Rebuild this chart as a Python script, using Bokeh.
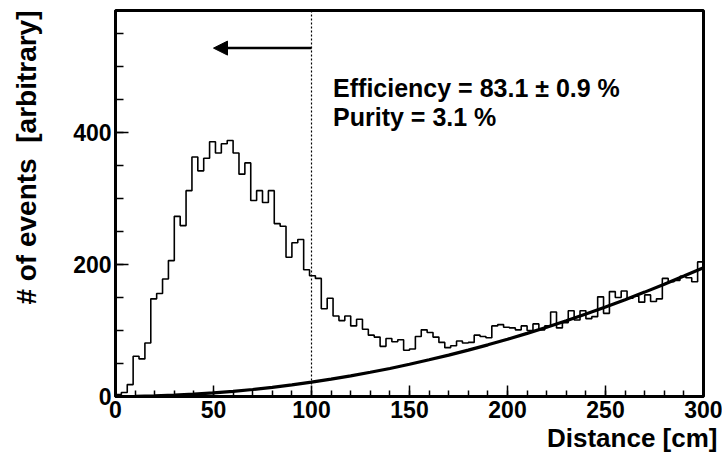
import numpy as np
from bokeh.plotting import figure
from bokeh.models import Range1d, SingleIntervalTicker, Span, Label, Arrow, NormalHead, Title
from bokeh.embed import file_html
from bokeh.resources import INLINE

# ---- data ----
bin_width = 3  # cm
counts = [3, 6, 18, 61, 57, 81, 148, 156, 178, 206,
          273, 259, 312, 363, 342, 361, 386, 369, 383, 388,
          369, 337, 354, 297, 312, 294, 312, 262, 258, 211,
          233, 238, 192, 183, 179, 133, 149, 122, 115, 122,
          107, 117, 102, 93, 90, 76, 88, 83, 86, 70,
          72, 91, 101, 97, 90, 82, 74, 77, 84, 81,
          82, 93, 91, 89, 107, 109, 105, 104, 101, 107,
          100, 110, 101, 107, 128, 104, 112, 130, 116, 130,
          118, 121, 151, 126, 159, 150, 160, 149, 152, 143,
          154, 144, 148, 179, 174, 176, 182, 180, 174, 204]
bin_edges = [bin_width * i for i in range(len(counts) + 1)]

fit_x = [0, 10, 20, 30, 40, 50, 60, 70, 80, 90, 100, 110, 120, 130, 140, 150,
         160, 170, 180, 190, 200, 210, 220, 230, 240, 250, 260, 270, 280, 290, 300]
fit_y = [0, 0.2, 0.9, 2.0, 3.5, 5.4, 7.8, 10.6, 13.9, 17.6, 21.7, 26.3, 31.2,
         36.7, 42.5, 48.8, 55.6, 62.7, 70.3, 78.3, 86.8, 95.7, 105.0, 114.8,
         125.0, 135.6, 146.7, 158.2, 170.1, 182.5, 195.3]

cut_value = 100
arrow_end = 50
arrow_level = 528
eff_text = "Efficiency = 83.1 \u00b1 0.9 %"
pur_text = "Purity = 3.1 %"
x_title = "Distance [cm]"
y_title = "# of events\u00a0\u00a0[arbitrary]"

FONT = "Liberation Sans"

p = figure(width=722, height=452, output_backend="svg", toolbar_location=None,
           x_range=Range1d(0, 300), y_range=Range1d(0, 585),
           min_border_left=115, min_border_right=19, min_border_top=10, min_border_bottom=54)
p.background_fill_color = "white"
p.border_fill_color = "white"
p.outline_line_color = "black"
p.outline_line_width = 3
p.grid.visible = False

p.xaxis.ticker = SingleIntervalTicker(interval=50, num_minor_ticks=5)
p.yaxis.ticker = SingleIntervalTicker(interval=200, num_minor_ticks=4)
for ax in (p.xaxis, p.yaxis):
    ax.axis_line_width = 3
    ax.major_tick_out = 0
    ax.minor_tick_out = 0
    ax.major_tick_line_width = 1.5
    ax.minor_tick_line_width = 1.5
    ax.major_label_text_font = FONT
    ax.major_label_text_font_style = "bold"
    ax.major_label_text_font_size = "23px"
    ax.major_label_text_color = "black"
p.xaxis.major_tick_in = 11
p.xaxis.minor_tick_in = 6
p.yaxis.major_tick_in = 13
p.yaxis.minor_tick_in = 8
p.xaxis.major_label_standoff = 4
p.yaxis.major_label_standoff = 4
# invisible spacer label that pushes the y title outward
p.yaxis.axis_label = "\u00a0"
p.yaxis.axis_label_text_font_size = "9px"
p.yaxis.axis_label_standoff = 16

# axis titles (right/top aligned, ROOT style)
p.add_layout(Title(text=x_title, align="right", offset=-14, standoff=0,
                   text_font=FONT, text_font_style="bold", text_font_size="26px",
                   text_color="black"), "below")
p.add_layout(Title(text=y_title, align="right", offset=0, standoff=0,
                   text_font=FONT, text_font_style="bold", text_font_size="28px",
                   text_color="black"), "left")

# histogram
p.step(x=bin_edges, y=counts + [counts[-1]], mode="after", line_color="black", line_width=1.6)
# fit curve
p.line(x=fit_x, y=fit_y, line_color="black", line_width=3.2)

# cut line
p.add_layout(Span(location=cut_value, dimension="height", line_color="black",
                  line_width=1.2, line_dash="2 2"))
# arrow
p.add_layout(Arrow(end=NormalHead(size=14, fill_color="black", line_color="black", line_width=1),
                   x_start=cut_value, y_start=arrow_level, x_end=arrow_end, y_end=arrow_level,
                   line_color="black", line_width=2.5))

p.add_layout(Label(x=111, y=468, text=eff_text, text_font=FONT, text_font_style="bold",
                   text_font_size="25px", text_color="black",
                   text_baseline="alphabetic", text_align="left"))
p.add_layout(Label(x=111, y=423, text=pur_text, text_font=FONT, text_font_style="bold",
                   text_font_size="25px", text_color="black",
                   text_baseline="alphabetic", text_align="left"))

open("out.html", "w").write(file_html(p, INLINE))
